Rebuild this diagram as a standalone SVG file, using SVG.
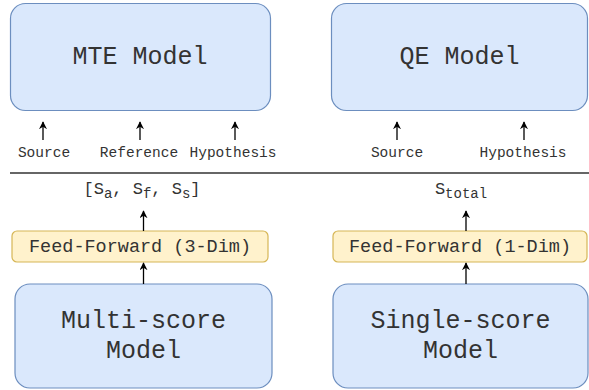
<svg xmlns="http://www.w3.org/2000/svg" width="589" height="390" viewBox="0 0 589 390">
<style>
.model{fill:#dae8fc;stroke:#6c8ebf;stroke-width:1.2}
.ff{fill:#fff2cc;stroke:#d6b656;stroke-width:1.2}
text{font-family:"Courier New","Nimbus Mono PS","FreeMono","Liberation Mono",monospace;fill:#333;text-anchor:middle}
.big{font-size:25px}
.mid{font-size:18.5px}
.lbl{font-size:14.5px}
.score{font-size:17px}
.sub{font-size:14px}
.arr{stroke:#000;stroke-width:1.3;fill:none;marker-end:url(#ah)}
</style>
<defs>
<marker id="ah" viewBox="0 0 10 10" refX="9" refY="5" markerWidth="8" markerHeight="8" markerUnits="userSpaceOnUse" orient="auto">
<path d="M0,0 L10,5 L0,10 L3,5 Z" fill="#000"/>
</marker>
</defs>
<g id="mte">
<rect class="model" x="10.5" y="3.5" width="260" height="107" rx="15"/>
<text class="big" x="140" y="64">MTE Model</text>
</g>
<g id="qe">
<rect class="model" x="331.5" y="3.5" width="256" height="107" rx="15"/>
<text class="big" x="459.5" y="64">QE Model</text>
</g>
<g id="labels">
<text class="lbl" x="44" y="157">Source</text>
<text class="lbl" x="139" y="157">Reference</text>
<text class="lbl" x="233" y="157">Hypothesis</text>
<text class="lbl" x="397" y="157">Source</text>
<text class="lbl" x="523" y="157">Hypothesis</text>
</g>
<g id="divider">
<line x1="10" y1="173" x2="589" y2="173" stroke="#333" stroke-width="1.3"/>
</g>
<g id="scores">
<text class="score" x="142" y="194">[S<tspan class="sub" dy="4">a</tspan><tspan dy="-4">, S</tspan><tspan class="sub" dy="4">f</tspan><tspan dy="-4">, S</tspan><tspan class="sub" dy="4">s</tspan><tspan dy="-4">]</tspan></text>
<text class="score" x="461" y="194">S<tspan class="sub" dy="4">total</tspan></text>
</g>
<g id="ff3">
<rect class="ff" x="12" y="231" width="256" height="31" rx="5"/>
<text class="mid" x="140" y="252">Feed-Forward (3-Dim)</text>
</g>
<g id="ff1">
<rect class="ff" x="333" y="231" width="254" height="31" rx="5"/>
<text class="mid" x="460" y="252">Feed-Forward (1-Dim)</text>
</g>
<g id="multi">
<rect class="model" x="15" y="284" width="257" height="104" rx="15"/>
<text class="big" x="143.5" y="328">Multi-score</text>
<text class="big" x="143.5" y="358">Model</text>
</g>
<g id="single">
<rect class="model" x="333" y="284" width="255" height="104" rx="15"/>
<text class="big" x="460.5" y="328">Single-score</text>
<text class="big" x="460.5" y="358">Model</text>
</g>
<g id="connectors">
<line class="arr" x1="43" y1="140" x2="43" y2="122"/>
<line class="arr" x1="140" y1="140" x2="140" y2="122"/>
<line class="arr" x1="235" y1="140" x2="235" y2="122"/>
<line class="arr" x1="397" y1="140" x2="397" y2="122"/>
<line class="arr" x1="524" y1="140" x2="524" y2="122"/>
<line class="arr" x1="143.5" y1="231" x2="143.5" y2="211"/>
<line class="arr" x1="466" y1="231" x2="466" y2="211"/>
<line class="arr" x1="143.5" y1="284" x2="143.5" y2="263"/>
<line class="arr" x1="466" y1="284" x2="466" y2="263"/>
</g>
</svg>
